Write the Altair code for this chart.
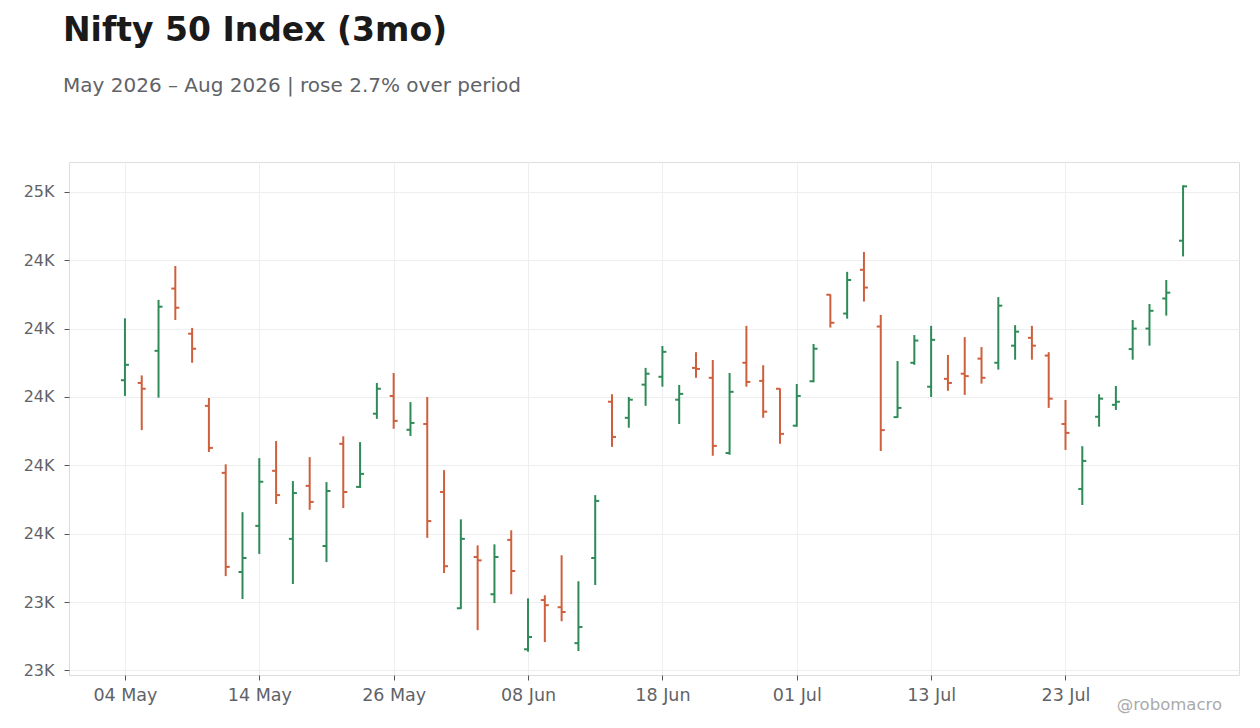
import pandas as pd
import altair as alt

# trading days shown on the chart (one bar per session)
dates = [
    "2026-05-04", "2026-05-05", "2026-05-06", "2026-05-07", "2026-05-08",
    "2026-05-11", "2026-05-12", "2026-05-13", "2026-05-14", "2026-05-15",
    "2026-05-18", "2026-05-19", "2026-05-20", "2026-05-21", "2026-05-22",
    "2026-05-25", "2026-05-26", "2026-05-27", "2026-05-29", "2026-06-01",
    "2026-06-02", "2026-06-03", "2026-06-04", "2026-06-05", "2026-06-08",
    "2026-06-09", "2026-06-10", "2026-06-11", "2026-06-12", "2026-06-15",
    "2026-06-16", "2026-06-17", "2026-06-18", "2026-06-19", "2026-06-22",
    "2026-06-23", "2026-06-24", "2026-06-25", "2026-06-29", "2026-06-30",
    "2026-07-01", "2026-07-02", "2026-07-03", "2026-07-06", "2026-07-07",
    "2026-07-08", "2026-07-09", "2026-07-10", "2026-07-13", "2026-07-14",
    "2026-07-15", "2026-07-16", "2026-07-17", "2026-07-20", "2026-07-21",
    "2026-07-22", "2026-07-23", "2026-07-24", "2026-07-27", "2026-07-28",
    "2026-07-29", "2026-07-30", "2026-07-31", "2026-08-03",
]

opens = [
    24049, 24041, 24135, 24317, 24185, 23974, 23778, 23488, 23623, 23784,
    23585, 23740, 23564, 23863, 23737, 23951, 24003, 23904, 23921, 23722,
    23382, 23532, 23423, 23582, 23262, 23406, 23385, 23280, 23529, 23986,
    23939, 24036, 24059, 23992, 24085, 24056, 23836, 24100, 24047, 24024,
    23916, 24046, 24299, 24244, 24372, 24206, 23941, 24100, 24030, 24053,
    24068, 24112, 24100, 24150, 24173, 24121, 23921, 23731, 23942, 23977,
    24140, 24200, 24288, 24457,
]
highs = [
    24230, 24063, 24284, 24383, 24202, 23997, 23803, 23663, 23821, 23871,
    23754, 23824, 23751, 23885, 23868, 24041, 24070, 23985, 24000, 23786,
    23642, 23566, 23569, 23610, 23411, 23420, 23537, 23461, 23713, 24008,
    24000, 24085, 24149, 24035, 24131, 24108, 24070, 24208, 24093, 24025,
    24038, 24155, 24300, 24366, 24424, 24240, 24105, 24181, 24208, 24123,
    24175, 24146, 24292, 24210, 24208, 24131, 23991, 23856, 24008, 24032,
    24225, 24272, 24342, 24619,
]
lows = [
    24003, 23903, 23998, 24225, 24100, 23839, 23476, 23409, 23541, 23687,
    23453, 23670, 23517, 23675, 23734, 23936, 23907, 23886, 23588, 23485,
    23380, 23318, 23397, 23423, 23255, 23283, 23344, 23257, 23450, 23854,
    23910, 23974, 24030, 23921, 24056, 23828, 23831, 24030, 23939, 23863,
    23913, 24043, 24203, 24229, 24279, 23842, 23939, 24094, 24000, 24018,
    24006, 24039, 24080, 24109, 24109, 23968, 23845, 23684, 23913, 23962,
    24109, 24150, 24238, 24411,
]
closes = [
    24094, 24024, 24264, 24261, 24141, 23851, 23503, 23529, 23752, 23713,
    23719, 23693, 23725, 23722, 23775, 24024, 23930, 23924, 23637, 23505,
    23585, 23522, 23532, 23491, 23298, 23391, 23371, 23327, 23696, 23883,
    23992, 24068, 24132, 24009, 24082, 23857, 24015, 24044, 23957, 23892,
    24003, 24141, 24217, 24342, 24320, 23903, 23968, 24165, 24167, 24041,
    24061, 24056, 24267, 24191, 24150, 23995, 23895, 23813, 23995, 23986,
    24200, 24252, 24305, 24616,
]

UP = "#2e8b57"
DOWN = "#cf5f3c"
FONT = "DejaVu Sans"
LABEL = "#5f6368"

df = pd.DataFrame({
    "i": range(len(dates)),
    "date": dates,
    "open": opens,
    "high": highs,
    "low": lows,
    "close": closes,
})
df["dir"] = ["up" if c >= o else "down" for o, c in zip(opens, closes)]

# x is the session number, labelled with its date every 8 sessions
labels = [pd.Timestamp(d).strftime("%d %b") for d in dates]
label_expr = "[" + ",".join("'%s'" % s for s in labels) + "][datum.value]"

lo, hi = min(lows), max(highs)
pad = (hi - lo) * 0.05

x_scale = alt.Scale(domain=[-3.33, len(dates) - 1 + 3.33], nice=False, zero=False)
y_scale = alt.Scale(domain=[lo - pad, hi + pad], nice=False, zero=False)

x_enc = alt.X(
    "i:Q",
    scale=x_scale,
    title=None,
    axis=alt.Axis(
        values=list(range(0, len(dates), 8)),
        labelExpr=label_expr,
        grid=True,
        gridColor="#eeeeee",
        domain=False,
        tickColor="#555555",
        tickSize=5,
        labelPadding=6,
        labelFontSize=17.5,
        labelColor=LABEL,
        labelFont=FONT,
    ),
)
y_axis = alt.Axis(
    values=list(range(23200, 24601, 200)),
    labelExpr="format(datum.value / 1000, '.0f') + 'K'",
    grid=True,
    gridColor="#eeeeee",
    domain=False,
    tickColor="#555555",
    tickSize=5,
    labelPadding=10,
    labelFontSize=16,
    labelColor=LABEL,
    labelFont=FONT,
)
color = alt.Color("dir:N", scale=alt.Scale(domain=["up", "down"], range=[UP, DOWN]), legend=None)

base = alt.Chart(df)

# high-low range
wicks = base.mark_rule(strokeWidth=2).encode(
    x=x_enc,
    y=alt.Y("low:Q", scale=y_scale, title=None, axis=y_axis),
    y2="high:Q",
    color=color,
)

# open tick on the left, close tick on the right
open_ticks = base.mark_rule(strokeWidth=2, xOffset=-4, x2Offset=0).encode(
    x=alt.X("i:Q", scale=x_scale),
    x2="i:Q",
    y=alt.Y("open:Q", scale=y_scale),
    color=color,
)
close_ticks = base.mark_rule(strokeWidth=2, xOffset=0, x2Offset=4).encode(
    x=alt.X("i:Q", scale=x_scale),
    x2="i:Q",
    y=alt.Y("close:Q", scale=y_scale),
    color=color,
)

watermark = alt.Chart(pd.DataFrame({"t": ["@robomacro"]})).mark_text(
    align="right", baseline="middle", fontSize=16.5, font=FONT, color="#aaaaaa"
).encode(
    x=alt.value(1153),
    y=alt.value(543),
    text="t:N",
)

chart = (
    alt.layer(wicks, open_ticks, close_ticks, watermark)
    .properties(
        width=1170,
        height=513,
        autosize=alt.AutoSizeParams(type="none"),
        padding={"left": 61, "top": 154, "right": 13, "bottom": 45},
        title=alt.TitleParams(
            text="Nifty 50 Index (3mo)",
            subtitle="May 2026 – Aug 2026 | rose 2.7% over period",
            anchor="start",
            frame="group",
            dx=-6,
            offset=66,
            font=FONT,
            fontSize=33,
            fontWeight="bold",
            color="#1a1a1a",
            subtitleFont=FONT,
            subtitleFontSize=20,
            subtitleColor=LABEL,
            subtitlePadding=28,
        ),
    )
    .configure_view(stroke="#dddddd", strokeWidth=1)
    .configure(background="white")
)

chart.save("out.html", embed_options={"renderer": "svg", "actions": False})
